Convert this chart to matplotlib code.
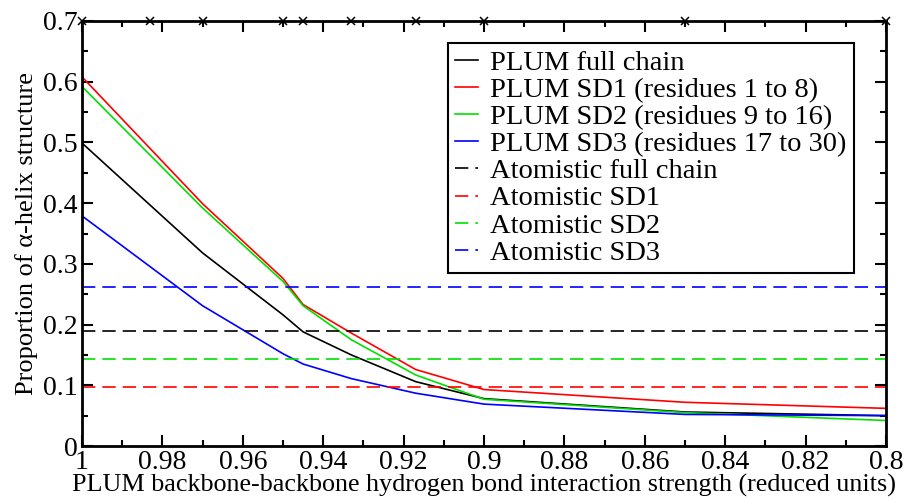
import matplotlib
matplotlib.use("Agg")
import matplotlib.pyplot as plt
from matplotlib.ticker import MultipleLocator, FuncFormatter

plt.rcParams['font.family'] = ['Liberation Serif', 'DejaVu Serif']

x = [1.0, 0.97, 0.95, 0.945, 0.933, 0.917, 0.9, 0.85, 0.8]
full_chain = [0.499, 0.318, 0.216, 0.188, 0.150, 0.106, 0.078, 0.056, 0.050]
sd1 = [0.608, 0.399, 0.276, 0.233, 0.186, 0.126, 0.093, 0.072, 0.062]
sd2 = [0.592, 0.392, 0.271, 0.231, 0.175, 0.117, 0.077, 0.055, 0.042]
sd3 = [0.379, 0.231, 0.152, 0.135, 0.111, 0.087, 0.069, 0.052, 0.050]

atom_full = 0.190
atom_sd1 = 0.098
atom_sd2 = 0.143
atom_sd3 = 0.262

marker_x = [1.0, 0.983, 0.97, 0.95, 0.945, 0.933, 0.917, 0.9, 0.85, 0.8]
marker_y = [0.7] * len(marker_x)

labels = ["PLUM full chain", "PLUM SD1 (residues 1 to 8)",
          "PLUM SD2 (residues 9 to 16)", "PLUM SD3 (residues 17 to 30)",
          "Atomistic full chain", "Atomistic SD1", "Atomistic SD2", "Atomistic SD3"]
colors = ["black", "#ff0000", "#00e000", "#0000ff"]

fig = plt.figure(figsize=(9.05, 4.99), dpi=100)
ax = fig.add_axes([82/905, 53/499, 804/905, 425/499])

lw = 1.2
dash = (0, (8, 4.2))
for ys, c, lab in zip([full_chain, sd1, sd2, sd3], colors, labels[:4]):
    ax.plot(x, ys, color=c, lw=lw, label=lab)
for val, c, lab in zip([atom_full, atom_sd1, atom_sd2, atom_sd3], colors, labels[4:]):
    ax.plot([1.0, 0.8], [val, val], color=c, lw=lw, ls=dash, label=lab)

ax.plot(marker_x, marker_y, ls='none', marker='x', color='black', ms=6, mew=1.1,
        clip_on=False, zorder=5)

ax.set_xlim(1.0, 0.8)
ax.set_ylim(0, 0.7)
ax.xaxis.set_major_locator(MultipleLocator(0.02))
ax.xaxis.set_minor_locator(MultipleLocator(0.01))
ax.yaxis.set_major_locator(MultipleLocator(0.1))
ax.yaxis.set_minor_locator(MultipleLocator(0.05))
ax.tick_params(which='both', direction='in', top=True, right=True, width=1.5)
ax.tick_params(which='major', length=8, labelsize=20, pad=3)
ax.tick_params(which='minor', length=4)

def fmt(v, pos):
    return f"{v:.2f}".rstrip('0').rstrip('.')
ax.xaxis.set_major_formatter(FuncFormatter(fmt))
ax.yaxis.set_major_formatter(FuncFormatter(fmt))

for s in ax.spines.values():
    s.set_linewidth(2)

ax.set_xlabel("PLUM backbone-backbone hydrogen bond interaction strength (reduced units)",
              fontsize=18.8, labelpad=-1)
ax.set_ylabel("Proportion of α-helix structure", fontsize=19, labelpad=4)

leg = ax.legend(loc='upper right', bbox_to_anchor=(0.960, 0.948), borderaxespad=0,
                fontsize=20.5, frameon=True, fancybox=False, edgecolor='black',
                handlelength=0.8, handletextpad=0.45, labelspacing=0.04, borderpad=0.25)
leg.get_frame().set_linewidth(1.5)
leg.get_frame().set_alpha(1)

fig.savefig("out.png", dpi=100)
